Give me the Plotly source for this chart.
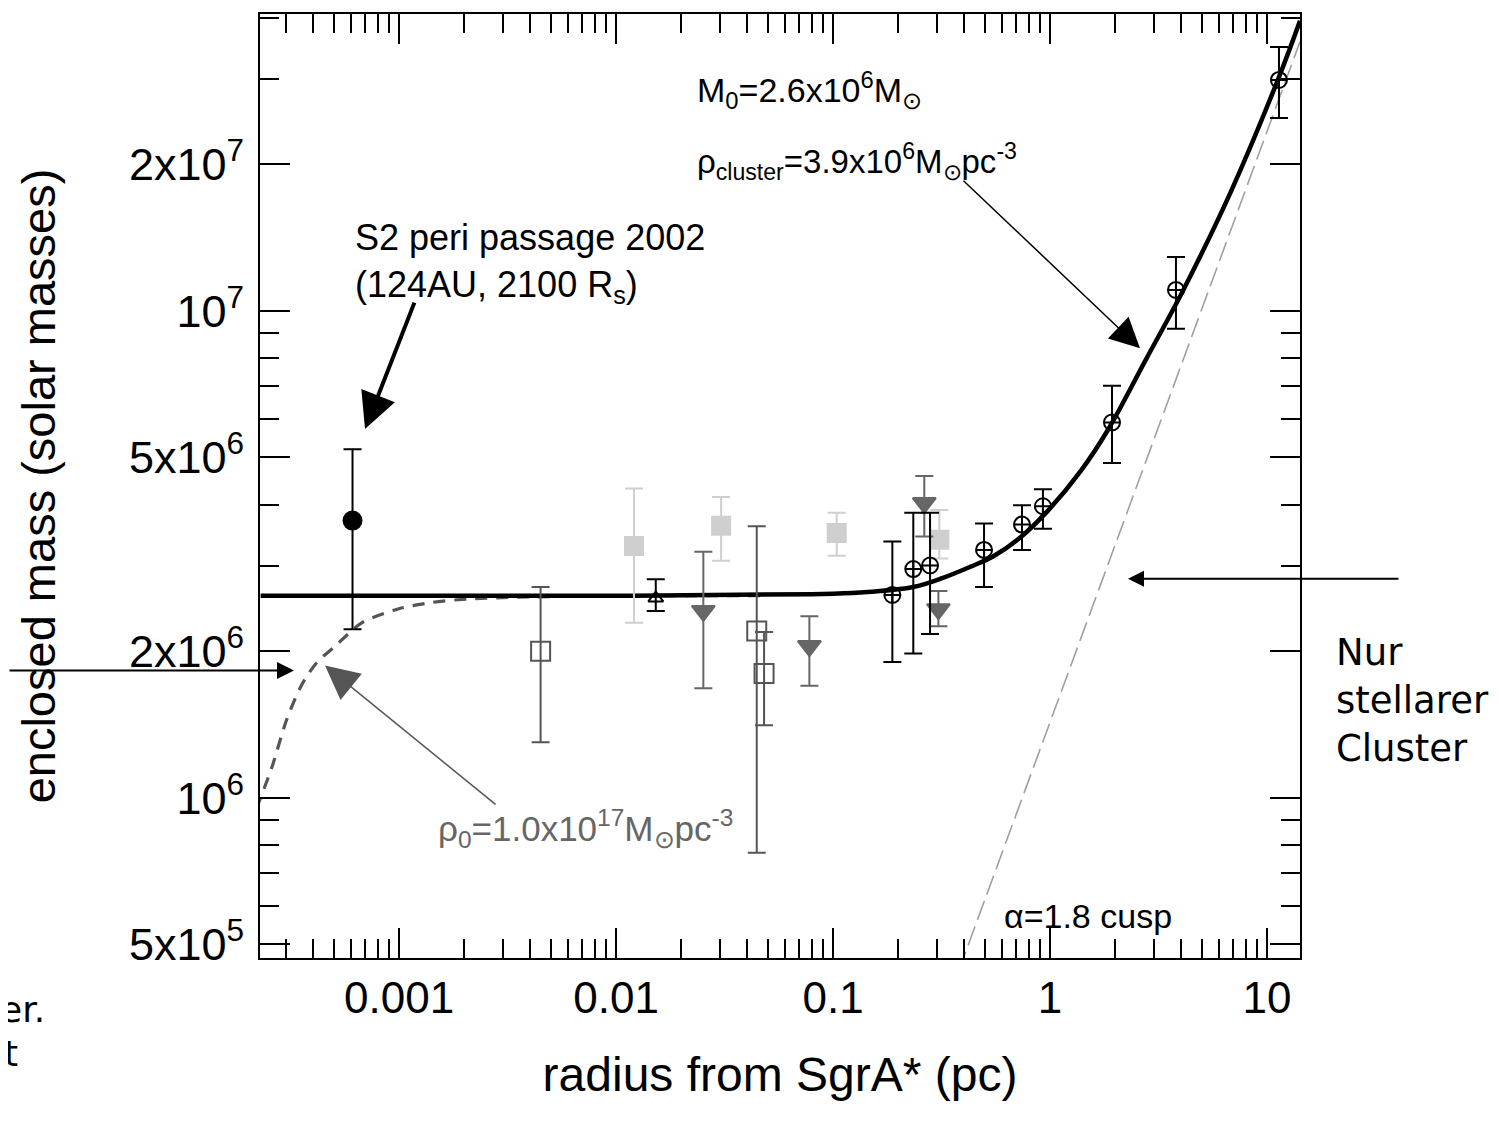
import numpy as np
import plotly.graph_objects as go

# ---------------- data ----------------
# solid black model curve: point mass + stellar cluster
model_r = [2.3e-4, 0.01, 0.08, 0.133, 0.234, 0.321, 0.428, 0.546, 0.727, 0.969, 1.39,
           1.851, 2.77, 4.10, 6.83, 11.36, 14.2]
model_m = [2.60e6, 2.60e6, 2.62e6, 2.64e6, 2.71e6, 2.83e6, 2.98e6, 3.13e6, 3.42e6, 3.87e6, 4.70e6,
           5.70e6, 7.95e6, 1.10e7, 1.76e7, 3.02e7, 3.94e7]

# grey dashed curve: dark cluster rho0 = 1e17
dark_r = [2.2e-4, 2.6e-4, 3.02e-4, 3.54e-4, 4.19e-4, 5.02e-4, 6.75e-4, 9.8e-4, 1.42e-3,
          2.06e-3, 3.25e-3, 0.01, 0.05]
dark_m = [9.5e5, 1.16e6, 1.44e6, 1.70e6, 1.90e6, 2.04e6, 2.29e6, 2.44e6, 2.52e6,
          2.56e6, 2.58e6, 2.60e6, 2.60e6]

# thin dashed line: alpha = 1.8 cusp
cusp_r = [0.38, 14.2]
cusp_m = [4.42e5, 3.57e7]

# S2 peri passage (filled black circle)
s2_r = [6.1e-4]
s2_m = [3.71e6]
s2_hi = [5.20e6]
s2_lo = [2.22e6]

# open squares (dark grey)
osq_r = [4.49e-3, 0.0445, 0.0481]
osq_m = [2.00e6, 2.20e6, 1.80e6]
osq_hi = [2.71e6, 3.61e6, 2.19e6]
osq_lo = [1.30e6, 7.71e5, 1.41e6]

# light grey filled squares
lsq_r = [0.0121, 0.0305, 0.104, 0.309]
lsq_m = [3.29e6, 3.62e6, 3.50e6, 3.39e6]
lsq_hi = [4.32e6, 4.15e6, 3.85e6, 3.90e6]
lsq_lo = [2.29e6, 3.07e6, 3.14e6, 3.10e6]

# grey filled down-triangles
tri_r = [0.02525, 0.0778, 0.2634, 0.306]
tri_m = [2.42e6, 2.05e6, 4.03e6, 2.44e6]
tri_hi = [3.20e6, 2.36e6, 4.58e6, 2.66e6]
tri_lo = [1.68e6, 1.70e6, 3.44e6, 2.25e6]

# black up-triangle
btri_r = [0.01524]
btri_m = [2.57e6]
btri_hi = [2.81e6]
btri_lo = [2.42e6]

# circle-cross points
cc_r = [0.1877, 0.2344, 0.28, 0.4966, 0.743, 0.928, 1.931, 3.807, 11.36]
cc_m = [2.61e6, 2.95e6, 3.00e6, 3.23e6, 3.64e6, 3.97e6, 5.90e6, 1.104e7, 2.98e7]
cc_hi = [3.36e6, 3.85e6, 3.85e6, 3.66e6, 3.99e6, 4.30e6, 7.02e6, 1.29e7, 3.48e7]
cc_lo = [1.90e6, 1.98e6, 2.17e6, 2.71e6, 3.23e6, 3.57e6, 4.87e6, 9.19e6, 2.49e7]

# axes
X_MIN, X_MAX = 2.285e-4, 14.2
Y_MIN, Y_MAX = 4.69e5, 4.07e7
x_tickvals = [1e-3, 1e-2, 1e-1, 1, 10]
x_ticktext = ["0.001", "0.01", "0.1", "1", "10"]
y_tickvals = [5e5, 1e6, 2e6, 5e6, 1e7, 2e7]
y_ticktext = ["5x10<sup>5</sup>", "10<sup>6</sup>", "2x10<sup>6</sup>",
              "5x10<sup>6</sup>", "10<sup>7</sup>", "2x10<sup>7</sup>"]
x_minor = [m * 10.0 ** e for e in range(-4, 2) for m in range(2, 10)]
y_minor = [m * 10.0 ** e for e in range(5, 8) for m in range(2, 10)
           if m * 10.0 ** e not in y_tickvals]

# ---------------- figure ----------------
PAGE = 8                      # default body margin of the html page
W, H = 1499 - PAGE, 1124 - PAGE
L, R, T, B = 260 - PAGE, 1300 - PAGE, 12 - PAGE, 958 - PAGE


def px(x):   # page pixel -> paper
    return (x - PAGE - L) / (R - L)


def py(y):
    return (B - (y - PAGE)) / (B - T)


fig = go.Figure()

fig.add_trace(go.Scatter(x=cusp_r, y=cusp_m, mode="lines",
                         line=dict(color="#a0a0a0", width=1.6, dash="20px,7px"),
                         hoverinfo="skip"))
fig.add_trace(go.Scatter(x=dark_r, y=dark_m, mode="lines",
                         line=dict(color="#555555", width=3.2, dash="12px,9px", shape="spline",
                                   smoothing=0.8),
                         hoverinfo="skip"))
fig.add_trace(go.Scatter(x=model_r, y=model_m, mode="lines",
                         line=dict(color="black", width=4.5, shape="spline", smoothing=1.0),
                         hoverinfo="skip"))


def err(m, hi, lo):
    return dict(type="data", symmetric=False,
                array=[h - v for h, v in zip(hi, m)],
                arrayminus=[v - l for v, l in zip(m, lo)])


def pts(r, m, hi, lo, symbol, color, size, ecolor, lw=2):
    e = err(m, hi, lo)
    e.update(color=ecolor, thickness=2, width=9)
    fig.add_trace(go.Scatter(x=r, y=m, mode="markers",
                             marker=dict(symbol=symbol, size=size, color=color,
                                         line=dict(color=color, width=lw)),
                             error_y=e, hoverinfo="skip"))


pts(lsq_r, lsq_m, lsq_hi, lsq_lo, "square", "#cfcfcf", 18, "#cfcfcf")
pts(osq_r, osq_m, osq_hi, osq_lo, "square-open", "#555555", 19, "#555555")
pts(tri_r, tri_m, tri_hi, tri_lo, "triangle-down", "#666666", 20, "#666666")
pts(btri_r, btri_m, btri_hi, btri_lo, "triangle-up-open", "black", 13, "black")
pts(cc_r, cc_m, cc_hi, cc_lo, "circle-cross-open", "black", 16, "black")
pts(s2_r, s2_m, s2_hi, s2_lo, "circle", "black", 18, "black")

TXT = "Liberation Sans, Arial, sans-serif"
SLIDE = "DejaVu Sans, Verdana, sans-serif"
SUN = "⊙"

ann = []


def text(x, y, s, size, color="black", family=TXT):
    ann.append(dict(x=px(x), y=py(y), xref="paper", yref="paper", text=s,
                    showarrow=False, xanchor="left", yanchor="middle", align="left",
                    font=dict(size=size, color=color, family=family)))


def arrow(tipx, tipy, tailx, taily, width, color, size, head=2):
    ann.append(dict(x=px(tipx), y=py(tipy), xref="paper", yref="paper", text="",
                    showarrow=True, ax=tailx - tipx, ay=taily - tipy, axref="pixel",
                    ayref="pixel", arrowhead=head, arrowsize=size, arrowwidth=width,
                    arrowcolor=color, standoff=0))


text(695, 88, "M<sub>0</sub>=2.6x10<sup>6</sup>M<sub>" + SUN + "</sub>", 34)
text(695, 160, "ρ<sub>cluster</sub>=3.9x10<sup>6</sup>M<sub>" + SUN + "</sub>pc<sup>-3</sup>", 33)
text(353, 262, "S2 peri passage 2002<br>(124AU, 2100 R<sub>s</sub>)", 36)
text(436, 828, "ρ<sub>0</sub>=1.0x10<sup>17</sup>M<sub>" + SUN + "</sub>pc<sup>-3</sup>", 35,
     color="#666666")
text(1002, 916, "α=1.8 cusp", 34)
text(1334, 700, "Nur<br>stellarer<br>Cluster", 37, family=SLIDE)
text(-2, 1010, "er.", 36, family=SLIDE)
text(2, 1054, "t", 36, family=SLIDE)

arrow(365, 428, 415, 300, 4, "black", 1.8)
arrow(1140, 347, 962, 178, 1.5, "black", 4)
arrow(325, 665, 497, 805, 1.5, "#555555", 4.5)
arrow(1128, 578, 1400, 578, 2, "black", 1.6)
arrow(294, 670, 0, 670, 2, "black", 1.7)

fig.update_layout(
    width=W, height=H,
    margin=dict(l=L, r=W - R, t=T, b=H - B, pad=0),
    paper_bgcolor="white", plot_bgcolor="white",
    showlegend=False,
    annotations=ann,
    font=dict(family=TXT, color="black"),
)

fig.update_xaxes(
    type="log", range=[np.log10(X_MIN), np.log10(X_MAX)],
    tickvals=x_tickvals, ticktext=x_ticktext,
    ticks="inside", ticklen=30, tickwidth=2, tickcolor="black",
    minor=dict(tickvals=x_minor, ticks="inside", ticklen=19, tickwidth=2, tickcolor="black"),
    showline=True, linewidth=2, linecolor="black", mirror="ticks",
    showgrid=False, zeroline=False,
    tickfont=dict(size=44, family=TXT, color="black"),
    ticklabelstandoff=0,
    title=dict(text="radius from SgrA* (pc)", font=dict(size=48, family=TXT, color="black"),
               standoff=37),
)
fig.update_yaxes(
    type="log", range=[np.log10(Y_MIN), np.log10(Y_MAX)],
    tickvals=y_tickvals, ticktext=y_ticktext,
    ticks="inside", ticklen=30, tickwidth=2, tickcolor="black",
    minor=dict(tickvals=y_minor, ticks="inside", ticklen=19, tickwidth=2, tickcolor="black"),
    showline=True, linewidth=2, linecolor="black", mirror="ticks",
    showgrid=False, zeroline=False,
    tickfont=dict(size=45, family=TXT, color="black"),
    ticklabelstandoff=5,
    title=dict(text="enclosed mass (solar masses)", font=dict(size=47, family=TXT, color="black"),
               standoff=58),
)

fig.write_html("out.html")
